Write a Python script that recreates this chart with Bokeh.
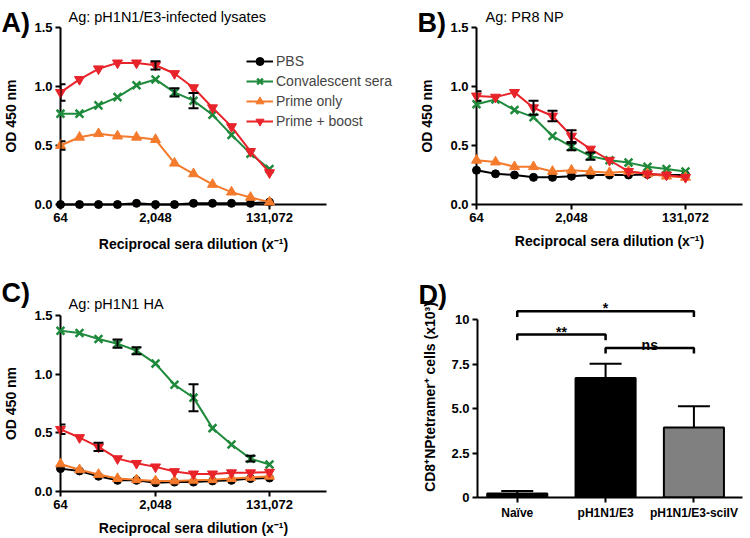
from bokeh.plotting import figure
from bokeh.layouts import row, column
from bokeh.models import (FixedTicker, NumeralTickFormatter, Range1d, Whisker, TeeHead,
                          ColumnDataSource, Legend, LegendItem)
from bokeh.core.properties import value
from bokeh.embed import file_html
from bokeh.resources import INLINE

FONT = "Liberation Sans"

# ---------------- data ----------------
dilutions = [64, 128, 256, 512, 1024, 2048, 4096, 8192, 16384, 32768, 65536, 131072]
x_ticks = [64, 2048, 131072]
x_axis_end = 2 ** 20
od_ticks = [0.0, 0.5, 1.0, 1.5]
series = ["PBS", "Convalescent sera", "Prime only", "Prime + boost"]
x_label = "Reciprocal sera dilution (x\u207b\u00b9)"
y_label = "OD 450 nm"

# Panel A: pH1N1/E3-infected lysates
a_pbs = [0.0, 0.0, 0.0, 0.0, 0.01, 0.0, 0.0, 0.01, 0.01, 0.01, 0.01, 0.02]
a_conv = [0.77, 0.77, 0.84, 0.91, 1.01, 1.06, 0.95, 0.88, 0.76, 0.59, 0.43, 0.30]
a_prime = [0.50, 0.57, 0.60, 0.58, 0.57, 0.55, 0.35, 0.26, 0.17, 0.105, 0.06, 0.02]
a_boost = [0.95, 1.06, 1.15, 1.20, 1.20, 1.18, 1.11, 0.99, 0.82, 0.66, 0.45, 0.27]
a_pbs_err = [0] * 12
a_conv_err = [0, 0, 0, 0, 0, 0, 0.035, 0.065, 0, 0, 0, 0]
a_prime_err = [0.035, 0, 0, 0, 0, 0, 0, 0, 0, 0, 0, 0]
a_boost_err = [0.07, 0, 0, 0, 0, 0.035, 0, 0, 0, 0, 0, 0]

# Panel B: PR8 NP
b_pbs = [0.29, 0.26, 0.25, 0.23, 0.23, 0.24, 0.25, 0.25, 0.25, 0.255, 0.25, 0.25]
b_conv = [0.85, 0.89, 0.80, 0.74, 0.58, 0.49, 0.41, 0.375, 0.355, 0.32, 0.30, 0.28]
b_prime = [0.375, 0.36, 0.32, 0.32, 0.28, 0.29, 0.28, 0.27, 0.28, 0.26, 0.24, 0.23]
b_boost = [0.92, 0.91, 0.95, 0.82, 0.75, 0.58, 0.47, 0.375, 0.28, 0.26, 0.25, 0.23]
b_pbs_err = [0] * 12
b_conv_err = [0, 0, 0, 0, 0, 0.03, 0.03, 0, 0, 0, 0, 0]
b_prime_err = [0] * 12
b_boost_err = [0.04, 0, 0, 0.06, 0.045, 0.05, 0, 0, 0, 0, 0, 0]

# Panel C: pH1N1 HA
c_pbs = [0.195, 0.175, 0.13, 0.095, 0.095, 0.075, 0.08, 0.08, 0.09, 0.095, 0.11, 0.115]
c_conv = [1.37, 1.35, 1.30, 1.26, 1.20, 1.09, 0.91, 0.80, 0.54, 0.40, 0.28, 0.23]
c_prime = [0.235, 0.185, 0.145, 0.11, 0.10, 0.09, 0.09, 0.095, 0.10, 0.11, 0.12, 0.13]
c_boost = [0.53, 0.46, 0.38, 0.28, 0.24, 0.21, 0.17, 0.15, 0.15, 0.16, 0.16, 0.165]
c_pbs_err = [0] * 12
c_conv_err = [0, 0, 0, 0.035, 0.03, 0, 0, 0.115, 0, 0, 0.025, 0]
c_prime_err = [0] * 12
c_boost_err = [0.04, 0, 0.035, 0, 0, 0, 0, 0, 0, 0, 0, 0]

# Panel D: CD8+ NP tetramer+ cells
groups = ["Naïve", "pH1N1/E3", "pH1N1/E3-sciIV"]
d_mean = [0.22, 6.72, 3.93]
d_sem = [0.14, 0.80, 1.20]
d_ticks = [0, 2.5, 5.0, 7.5, 10]
d_tick_labels = ["0", "2.5", "5.0", "7.5", "10"]
comparisons = [("Naïve", "pH1N1/E3-sciIV", "*"),
               ("Naïve", "pH1N1/E3", "**"),
               ("pH1N1/E3", "pH1N1/E3-sciIV", "ns")]

# ---------------- styles ----------------
STYLE = {
    "PBS": dict(color="black", marker="circle", size=8),
    "Convalescent sera": dict(color="#1f8a3c", marker="x", size=11),
    "Prime only": dict(color="#f47a2c", marker="triangle", size=10),
    "Prime + boost": dict(color="#e8232a", marker="inverted_triangle", size=10),
}
bar_colors = ["black", "black", "#808080"]
bracket_y = [10.47, 9.16, 8.41]
bracket_drop = 0.32
LETTER_SIZE = "27px"


def style_axes(p, label_size="13px"):
    for ax in p.axis:
        ax.axis_line_width = 2
        ax.axis_line_color = "black"
        ax.major_tick_line_width = 2
        ax.major_tick_line_color = "black"
        ax.major_tick_out = 5
        ax.major_tick_in = 0
        ax.minor_tick_line_color = None
        ax.major_label_text_font = FONT
        ax.major_label_text_font_style = "bold"
        ax.major_label_text_font_size = label_size
        ax.major_label_text_color = "black"
        ax.major_label_standoff = 3
        ax.axis_label_text_font = FONT
        ax.axis_label_text_font_style = "bold"
        ax.axis_label_text_font_size = "14px"
        ax.axis_label_text_color = "black"
    p.grid.visible = False
    p.outline_line_color = None


def put(p, text, ax, ay, dx, dy, size, bold=False, baseline="alphabetic", align="left"):
    """Text anchored at a data point of the frame, shifted by (dx, dy) screen pixels."""
    p.text(x=[ax], y=[ay], text=[text], x_offset=dx, y_offset=dy,
           text_font=value(FONT), text_font_size=size,
           text_font_style="bold" if bold else "normal",
           text_baseline=baseline, text_align=align, text_color="black",
           level="overlay")


def od_panel(width, height, borders, title, letter, title_off, letter_off, data, errs,
             legend_loc=None):
    frame_w = width - borders[0] - borders[1]
    axis_px = 266.0  # drawn length of the dilution axis
    x_end = 64 * (x_axis_end / 64) ** (frame_w / axis_px)
    p = figure(width=width, height=height, x_axis_type="log",
               x_range=Range1d(64, x_end), y_range=Range1d(0, 1.5),
               output_backend="svg", toolbar_location=None, frame_align=False,
               min_border_left=borders[0], min_border_right=borders[1],
               min_border_top=borders[2], min_border_bottom=borders[3])
    style_axes(p)
    p.xaxis.bounds = (64, x_axis_end)
    p.xaxis.ticker = FixedTicker(ticks=x_ticks)
    p.xaxis.formatter = NumeralTickFormatter(format="0,0")
    p.yaxis.ticker = FixedTicker(ticks=od_ticks)
    p.yaxis.formatter = NumeralTickFormatter(format="0.0")
    p.yaxis.axis_label = y_label
    p.xaxis.axis_label_standoff = 8
    p.yaxis.axis_label_standoff = 12
    if x_end > x_axis_end * 1.01:
        # frame is wider than the drawn axis: centre the label under the axis itself
        put(p, x_label, (64 * x_axis_end) ** 0.5, 0, 0, 31, "14px", bold=True,
            baseline="top", align="center")
    else:
        p.xaxis.axis_label = x_label

    items = []
    for name, ys in zip(series, data):
        st = STYLE[name]
        lr = p.line(dilutions, ys, line_color=st["color"], line_width=2, level="overlay")
        sr = p.scatter(dilutions, ys, marker=st["marker"], size=st["size"],
                       fill_color=st["color"], line_color=st["color"],
                       line_width=2.5 if st["marker"] == "x" else 1, level="overlay")
        items.append(LegendItem(label=name, renderers=[lr, sr]))
    for ys, es in zip(data, errs):
        xs = [d for d, e in zip(dilutions, es) if e > 0]
        lo = [y - e for y, e in zip(ys, es) if e > 0]
        hi = [y + e for y, e in zip(ys, es) if e > 0]
        if xs:
            src = ColumnDataSource(dict(x=xs, lo=lo, hi=hi))
            p.add_layout(Whisker(base="x", lower="lo", upper="hi", source=src,
                                 dimension="height", line_color="black", line_width=2,
                                 level="overlay",
                                 upper_head=TeeHead(size=10, line_width=2, line_color="black"),
                                 lower_head=TeeHead(size=10, line_width=2, line_color="black")))
    if legend_loc is not None:
        lg = Legend(items=items, location=legend_loc, padding=0, margin=0, spacing=0,
                    glyph_width=27, glyph_height=20, label_height=20, label_standoff=3,
                    label_text_font=FONT, label_text_font_size="14px",
                    border_line_color=None, background_fill_alpha=0)
        p.add_layout(lg, "center")
    put(p, title, 64, 1.5, title_off[0], title_off[1], "14.5px", baseline="middle")
    put(p, letter, 64, 1.5, letter_off[0], letter_off[1], LETTER_SIZE, bold=True)
    return p


pA = od_panel(400, 269, (60, 0, 27, 65), "Ag: pH1N1/E3-infected lysates", "A)",
              (8, -11), (-59, -5), [a_pbs, a_conv, a_prime, a_boost],
              [a_pbs_err, a_conv_err, a_prime_err, a_boost_err], legend_loc=(186, 73))
pB = od_panel(350, 269, (76, 8, 27, 65), "Ag: PR8 NP", "B)",
              (9, -11), (-59, -5), [b_pbs, b_conv, b_prime, b_boost],
              [b_pbs_err, b_conv_err, b_prime_err, b_boost_err])
pC = od_panel(400, 269, (60, 74, 46, 47), "Ag: pH1N1 HA", "C)",
              (8, -12), (-59, -23), [c_pbs, c_conv, c_prime, c_boost],
              [c_pbs_err, c_conv_err, c_prime_err, c_boost_err])

# ---------------- panel D ----------------
pos = {g: i + 1 for i, g in enumerate(groups)}
xs = [pos[g] for g in groups]
d_x0, d_y1 = 0.55, 11.3
pD = figure(width=350, height=269, x_range=Range1d(d_x0, 3.55), y_range=Range1d(0, d_y1),
            output_backend="svg", toolbar_location=None, frame_align=False,
            min_border_left=77, min_border_right=8, min_border_top=27, min_border_bottom=41)
style_axes(pD)
pD.xaxis.ticker = FixedTicker(ticks=xs)
pD.xaxis.major_label_overrides = {pos[g]: g for g in groups}
pD.xaxis.major_label_text_font_size = "12px"
pD.yaxis.ticker = FixedTicker(ticks=d_ticks)
pD.yaxis.major_label_overrides = dict(zip(d_ticks, d_tick_labels))
pD.yaxis.bounds = (0, 10)
pD.yaxis.axis_label = "CD8\u207aNPtetramer\u207a cells (x10\u00b3)"
pD.yaxis.axis_label_text_font_size = "14px"
pD.yaxis.axis_label_standoff = 10

pD.vbar(x=xs, top=d_mean, width=0.68, fill_color=bar_colors, line_color="black", line_width=2)
wsrc = ColumnDataSource(dict(x=xs, lo=d_mean, hi=[m + s for m, s in zip(d_mean, d_sem)]))
pD.add_layout(Whisker(base="x", lower="lo", upper="hi", source=wsrc, dimension="height",
                      line_color="black", line_width=2, level="overlay",
                      upper_head=TeeHead(size=32, line_width=2, line_color="black"),
                      lower_head=None))

bx, by, tx, ty, tt = [], [], [], [], []
for (g1, g2, lab), lvl in zip(comparisons, bracket_y):
    x1, x2 = pos[g1], pos[g2]
    bx.append([x1, x1, x2, x2])
    by.append([lvl - bracket_drop, lvl, lvl, lvl - bracket_drop])
    tx.append((x1 + x2) / 2)
    ty.append(lvl)
    tt.append(lab)
pD.multi_line(bx, by, line_color="black", line_width=2.5, level="overlay")
pD.text(tx, ty, text=tt, text_align="center", text_baseline="alphabetic", y_offset=-3,
        text_font=value(FONT), text_font_style="bold", text_font_size="14px",
        text_color="black", level="overlay")
put(pD, "D)", d_x0, d_y1, -59, -2, LETTER_SIZE, bold=True)

layout = column(row(pA, pB), row(pC, pD))
open("out.html", "w").write(file_html(layout, INLINE))
